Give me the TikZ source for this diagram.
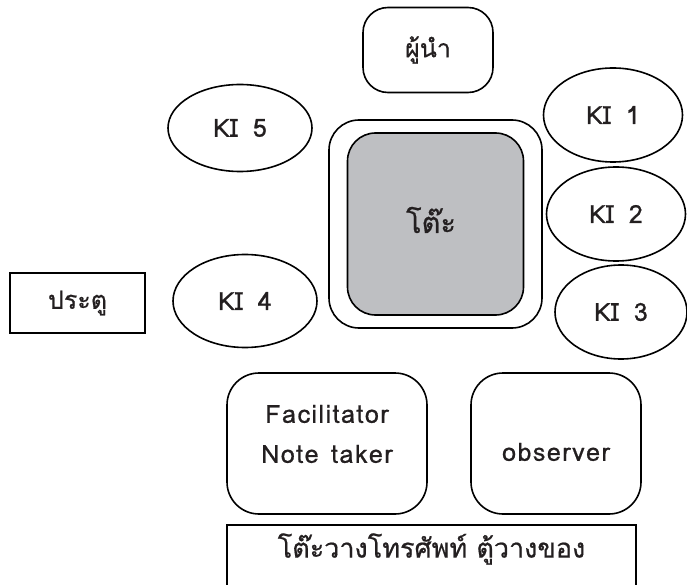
\documentclass[tikz,border=0pt]{standalone}
\usepackage{fontspec}
\usepackage{tikz}
\usetikzlibrary{shapes.geometric}
\newfontfamily\thaifont[Script=Thai, FakeBold=0.7]{Loma}
\definecolor{tablegray}{RGB}{190,191,194}
\definecolor{inkgray}{RGB}{35,31,32}

\tikzset{
  seat/.style={draw, ellipse, line width=1.6pt, inner sep=0pt, text=inkgray, font=\thaifont\fontsize{25}{30}\selectfont},
  staffbox/.style={draw, rounded corners=30pt, line width=1.6pt, inner sep=0pt},
  plainbox/.style={draw, line width=1.8pt, inner sep=0pt},
  label/.style={font=\thaifont\fontsize{25}{30}\selectfont, text=inkgray, align=center}
}

\begin{document}
\begin{tikzpicture}[x=1pt, y=-1pt]
				\useasboundingbox (0,0) rectangle (687,585);
				
				% leader
				\node[staffbox, rounded corners=25pt, minimum width=130pt, minimum height=85pt, label] (leader) at (428,50) {ผู้นำ};
				
				% table
				\node[staffbox, minimum width=213pt, minimum height=208pt] (tableouter) at (435.5,224) {};
				\node[staffbox, fill=tablegray, rounded corners=28pt, minimum width=176pt, minimum height=182pt] (table) at (tableouter.center) {};
				\node[text=inkgray, font=\thaifont\fontsize{29}{34}\selectfont] (tabletext) at (431,220) {โต๊ะ};
				
				% key informants
				\node[seat, minimum width=144pt, minimum height=87pt] (ki5) at (240,128) {KI\hspace{0.6em}5};
				\node[seat, minimum width=139pt, minimum height=94pt] (ki1) at (613,115) {KI\hspace{0.6em}1};
				\node[seat, minimum width=139pt, minimum height=94pt] (ki2) at (616,214) {KI\hspace{0.6em}2};
				\node[seat, minimum width=132pt, minimum height=94pt] (ki3) at (621,312) {KI\hspace{0.6em}3};
				\node[seat, minimum width=144pt, minimum height=93pt] (ki4) at (245,301) {KI\hspace{0.6em}4};
				
				% door
				\node[plainbox, minimum width=135pt, minimum height=60pt, label] (door) at (77.5,303) {ประตู};
				
				% staff
				\node[staffbox, rounded corners=32pt, minimum width=200pt, minimum height=141pt] (fac) at (327,443.5) {};
				\node[label, font=\thaifont\fontsize{25}{30}\selectfont\addfontfeature{LetterSpace=6}] (factext) at (327,434) {Facilitator\\[10pt]Note\hspace{0.5em}taker};
				\node[staffbox, rounded corners=32pt, minimum width=170pt, minimum height=141pt] (obs) at (556,443.5) {};
				\node[label, font=\thaifont\fontsize{25}{30}\selectfont\addfontfeature{LetterSpace=6}] (obstext) at (556,452) {observer};
				
				% phone table and cupboard
				\draw[line width=1.8pt] (227,525) rectangle (636,620);
				\node[label, font=\thaifont\fontsize{27}{32}\selectfont] (shelf) at (431.5,549) {โต๊ะวางโทรศัพท์ ตู้วางของ};
			\end{tikzpicture}
\end{document}
